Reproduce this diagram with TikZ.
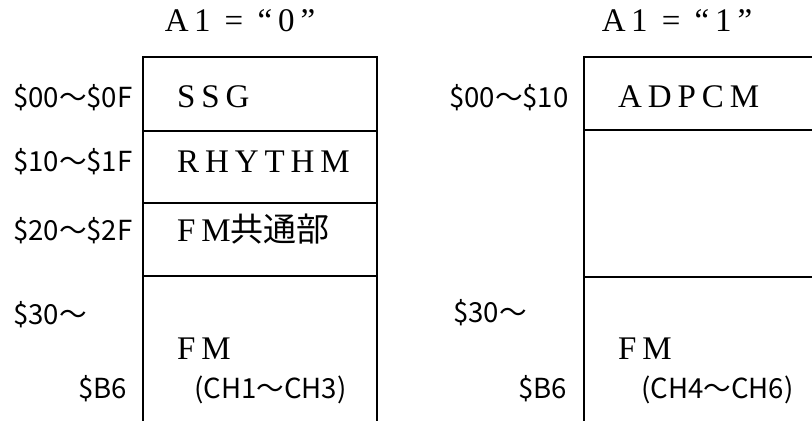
\documentclass[tikz,border=0pt]{standalone}
\usepackage{fontspec}
\setmainfont{Liberation Serif}
\newfontfamily\jp{Noto Sans CJK JP}
\newfontfamily\wide[LetterSpace=18]{Liberation Serif}

\begin{document}
\begin{tikzpicture}[x=0.5pt, y=-0.5pt, line width=1.1pt,
  addr/.style={font=\jp\fontsize{13.8}{16}\selectfont, inner sep=0pt, anchor=base west},
  part/.style={font=\wide\fontsize{16.5}{19}\selectfont, inner sep=0pt, anchor=base west}]
\useasboundingbox (0,0) rectangle (812,421);
% A1 = "0"
\node[part, anchor=base] (head0) at (240,32) {A\,1 = “0”};
\draw (143,421) -- (143,57) -- (377,57) -- (377,421);
\draw (143,131) -- (377,131) (143,203) -- (377,203) (143,276) -- (377,276);
\node[addr] (a00) at (12,108) {\$00〜\$0F};
\node[addr] (a10) at (12,172) {\$10〜\$1F};
\node[addr] (a20) at (12,241) {\$20〜\$2F};
\node[addr] (a30) at (12,325) {\$30〜};
\node[addr, anchor=base east] (ab6) at (128,398) {\$B6};
\node[part] (ssg) at (176,108) {SSG};
\node[part] (rhythm) at (176,173) {RHYTHM};
\node[part] (fmcom) at (176,242) {FM{\jp 共通部}};
\node[part] (fm0) at (176,360) {FM};
\node[addr] (ch0) at (193,398) {(CH1〜CH3)};
% A1 = "1"
\node[part, anchor=base] (head1) at (677,32) {A\,1 = “1”};
\draw (584,421) -- (584,57) -- (812,57);
\draw (584,130) -- (812,130) (584,277) -- (812,277);
\node[addr] (b00) at (448,108) {\$00〜\$10};
\node[addr] (b30) at (452,323) {\$30〜};
\node[addr, anchor=base east] (bb6) at (568,398) {\$B6};
\node[part] (adpcm) at (617,108) {ADPCM};
\node[part] (fm1) at (617,360) {FM};
\node[addr] (ch1) at (640,398) {(CH4〜CH6)};
\end{tikzpicture}
\end{document}
